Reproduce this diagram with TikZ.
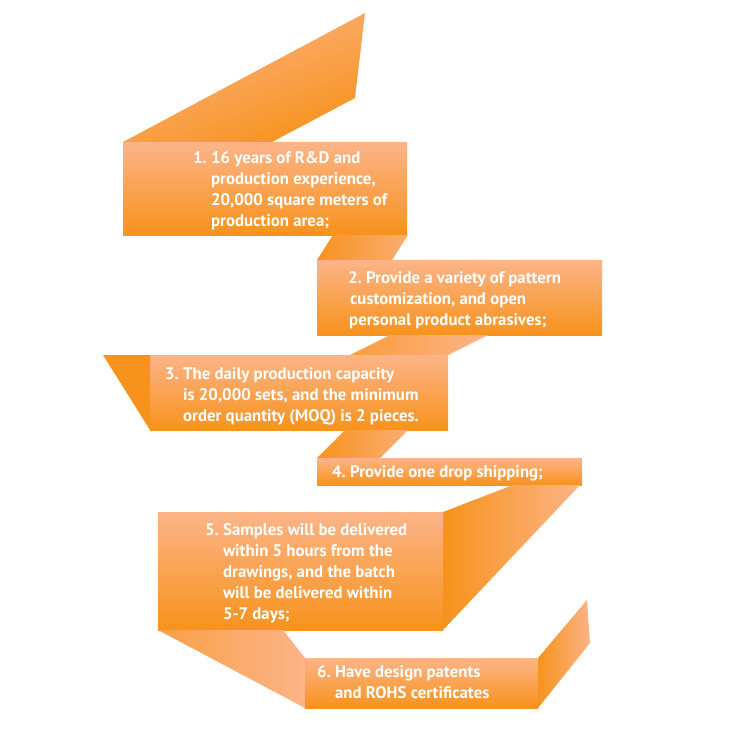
\documentclass[tikz,border=0pt]{standalone}
\usepackage{fontspec}
\setmainfont{PT Sans}
\usepackage{xcolor}
\definecolor{rbpeach}{RGB}{252,180,136}
\definecolor{rborange}{RGB}{247,146,28}
\usepackage{tikz}
\newcommand{\ribbonbox}[4]{\shade[top color=rbpeach,bottom color=rborange] (#1,#2) rectangle (#3,#4);}
\tikzset{
  steptext/.style={anchor=north west,inner sep=0pt,align=left,text=white,
    font=\bfseries\fontsize{16.8}{21}\selectfont}
}

\begin{document}
\begin{tikzpicture}[x=1pt,y=-1pt]
\useasboundingbox (0,0) rectangle (750,736);
% ---- ogon nad krokiem 1 ----
\shade[top color=rbpeach,bottom color=rborange,shading angle=20]
  (123,142) -- (365,13) -- (355,98) -- (272,142) -- cycle;
\ribbonbox{123}{142}{407}{235}
% zagiecie 1-2
\shade[left color=rborange,right color=rbpeach!80!rborange]
  (333,235) -- (408,235) -- (392,260) -- (317,260) -- cycle;
\ribbonbox{317}{260}{602}{335}
% zagiecie 2-3
\shade[left color=rborange!70!rbpeach,right color=rbpeach]
  (390,335) -- (488,335) -- (448,355) -- (350,355) -- cycle;
% ogon z lewej przy kroku 3
\fill[rborange] (103,355) -- (150,355) -- (150,430) -- cycle;
\ribbonbox{150}{355}{448}{430}
% zagiecie 3-4
\shade[left color=rborange,right color=rbpeach!80!rborange]
  (345,430) -- (408,430) -- (380,458) -- (317,458) -- cycle;
\ribbonbox{317}{458}{582}{485}
% zagiecie 4-5 (dlugie, po prawej)
\shade[left color=rborange,right color=rbpeach]
  (443,512) -- (513,485) -- (580,485) -- (443,630) -- cycle;
\ribbonbox{158}{512}{443}{630}
% zagiecie 5-6
\shade[left color=rborange!60!rbpeach,right color=rbpeach]
  (158,630) -- (283,630) -- (305,658) -- (305,708) -- cycle;
% ogon po prawej przy kroku 6
\shade[left color=rborange,right color=rbpeach]
  (538,658) -- (587,600) -- (590,643) -- (538,708) -- cycle;
\ribbonbox{305}{658}{538}{708}
% ---- teksty ----
\node[steptext] (s1) at (193,151) {1.\ 16 years of R\&D and\\
  \phantom{1.\ }production experience,\\
  \phantom{1.\ }20,000 square meters of\\
  \phantom{1.\ }production area;};
\node[steptext] (s2) at (348,271) {2.\ Provide a variety of pattern\\
  \hspace*{2pt}customization, and open\\
  \hspace*{1pt}personal product abrasives;};
\node[steptext] (s3) at (165,367) {3.\ The daily production capacity\\
  \phantom{3.\ }is 20,000 sets, and the minimum\\
  \phantom{3.\ }order quantity (MOQ) is 2 pieces.};
\node[steptext] (s4) at (332,465) {4.\ Provide one drop shipping;};
\node[steptext] (s5) at (205,523) {5.\ Samples will be delivered\\
  \phantom{5.\ }within 5 hours from the\\
  \phantom{5.\ }drawings, and the batch\\
  \phantom{5.\ }will be delivered within\\
  \phantom{5.\ }5-7 days;};
\node[steptext] (s6) at (317,665) {6.\ Have design patents\\
  \phantom{6.\ }and ROHS certificates};
\end{tikzpicture}
\end{document}
